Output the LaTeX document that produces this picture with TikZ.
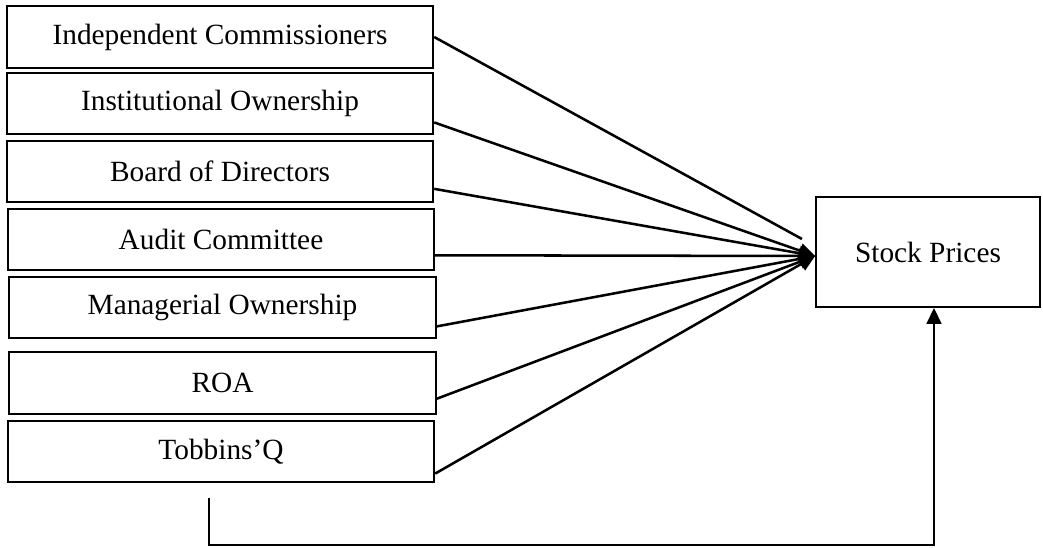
\documentclass[tikz,border=0pt]{standalone}
\usepackage{fontspec}
\setmainfont{Liberation Serif}
\usetikzlibrary{arrows.meta,calc}

\begin{document}
\begin{tikzpicture}[x=0.75pt,y=-0.75pt,
    var/.style={draw, line width=1.3pt, minimum width=320pt, minimum height=46pt, inner sep=0pt, font=\fontsize{22}{26}\selectfont},
    link/.style={line width=1.9pt},
    tip/.style={-{Triangle[length=12pt,width=11pt]}}]
  \useasboundingbox (0,0) rectangle (1043,547);
  \foreach \i/\x/\y/\t in {1/220/37/Independent Commissioners,2/220/103.5/Institutional Ownership,
      3/220/171.5/Board of Directors,4/221/239.5/Audit Committee,5/222.5/307.5/Managerial Ownership,
      6/222.5/383/ROA,7/221/451.5/Tobbins'Q} {
    \node[var] (b\i) at (\x,\y) {\t};
  }
  \node[draw, line width=1.3pt, minimum width=168pt, minimum height=82.5pt, inner sep=0pt,
    font=\fontsize{22}{26}\selectfont] (sp) at (928,252) {Stock Prices};
  \coordinate (aim) at ([yshift=-3pt]sp.west);
  \coordinate (stop1) at (802,239);
  % lines into stock prices
  \draw[link] (b1.east) -- (stop1);
  \foreach \i/\f in {2/0.6,3/0.55,4/0.5,5/0.6,6/0.5,7/0.7} {
    \draw[link,tip] ($(b\i.east)!\f!(b\i.south east)$) -- (aim);
  }
  % feedback line
  \coordinate (fb) at (209,498);
  \draw[link,tip] (fb) -- ++(0,47) -| ([xshift=4.5pt]sp.south);
\end{tikzpicture}
\end{document}
